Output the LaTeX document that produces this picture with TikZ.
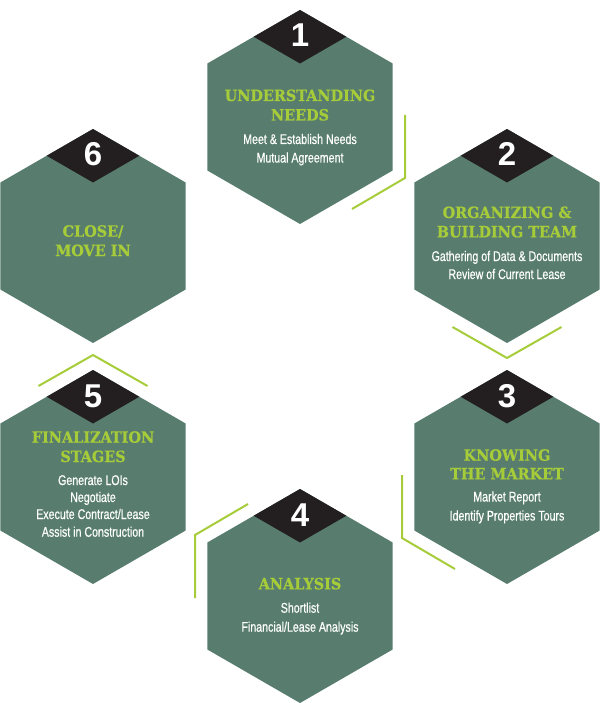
\documentclass[tikz,border=0pt]{standalone}
\usepackage{fontspec}
\usetikzlibrary{calc}
\newfontfamily\titlefont{DejaVu Serif}[FakeStretch=0.93, BoldFeatures={FakeBold=0.6}]
\newfontfamily\bodyfont{Liberation Sans}[FakeStretch=0.76, FakeBold=0.5]
\newfontfamily\numfont{Liberation Sans}
\definecolor{hexfill}{RGB}{88,125,111}
\definecolor{lime}{RGB}{166,204,57}
\definecolor{capblack}{RGB}{35,31,32}
\tikzset{
  hexbody/.style={fill=hexfill},
  capfill/.style={fill=capblack},
  numtext/.style={text=white, inner sep=0, anchor=base, font=\numfont\bfseries\fontsize{33}{33}\selectfont},
  titletext/.style={text=lime, inner sep=0, anchor=base, font=\titlefont\bfseries\fontsize{15.5}{18}\selectfont},
  bodytext/.style={text=white, inner sep=0, anchor=base, font=\bodyfont\fontsize{14}{16}\selectfont},
  chev/.style={draw=lime, line width=2pt}
}
\newcommand\hexcell[4]{%
  \coordinate (#1) at (#2,#3);
  \fill[hexbody] (#1) ++(0,-107) -- ++(92.66,53.5) -- ++(0,107) -- ++(-92.66,53.5) -- ++(-92.66,-53.5) -- ++(0,-107) -- cycle;
  \fill[capfill] (#1) ++(0,-107) -- ++(46.33,26.75) -- ++(-46.33,26.75) -- ++(-46.33,-26.75) -- cycle;
  \node[numtext] (#1num) at ($(#1)+(0,-70)$) {#4};
}
\begin{document}
\begin{tikzpicture}[x=1pt,y=-1pt]
\useasboundingbox (0,0) rectangle (600,703);
\hexcell{h1}{300}{117}{1}
\hexcell{h2}{507}{236}{2}
\hexcell{h3}{507}{477}{3}
\hexcell{h4}{300}{596}{4}
\hexcell{h5}{93}{477}{5}
\hexcell{h6}{93}{236}{6}

% texts hex 1
\node[titletext] (t1a) at (300,101) {UNDERSTANDING};
\node[titletext] (t1b) at (300,120.5) {NEEDS};
\node[bodytext] (b1a) at (300,144) {Meet \& Establish Needs};
\node[bodytext] (b1b) at (300,162.5) {Mutual Agreement};
% hex 2
\node[titletext] (t2a) at (507,218) {ORGANIZING \&};
\node[titletext] (t2b) at (507,237.3) {BUILDING TEAM};
\node[bodytext] (b2a) at (507,261) {Gathering of Data \& Documents};
\node[bodytext] (b2b) at (507,279) {Review of Current Lease};
% hex 3
\node[titletext] (t3a) at (507,460.7) {KNOWING};
\node[titletext] (t3b) at (507,479.3) {THE MARKET};
\node[bodytext] (b3a) at (507,501.5) {Market Report};
\node[bodytext] (b3b) at (507,520.5) {Identify Properties Tours};
% hex 4
\node[titletext] (t4a) at (300,589.3) {ANALYSIS};
\node[bodytext] (b4a) at (300,612.7) {Shortlist};
\node[bodytext] (b4b) at (300,631.7) {Financial/Lease Analysis};
% hex 5
\node[titletext] (t5a) at (93,442.7) {FINALIZATION};
\node[titletext] (t5b) at (93,462) {STAGES};
\node[bodytext] (b5a) at (93,485) {Generate LOIs};
\node[bodytext] (b5b) at (93,502) {Negotiate};
\node[bodytext] (b5c) at (93,519) {Execute Contract/Lease};
\node[bodytext] (b5d) at (93,536.7) {Assist in Construction};
% hex 6
\node[titletext] (t6a) at (93,236.7) {CLOSE/};
\node[titletext] (t6b) at (93,256) {MOVE IN};

% chevrons
\draw[chev] ($(h1)+(105,-2)$) -- ($(h1)+(105,61)$) -- ($(h1)+(52,92)$);
\draw[chev] ($(h2)+(-54.5,91)$) -- ($(h2)+(0,122)$) -- ($(h2)+(54.5,91)$);
\draw[chev] ($(h3)+(-105,-2)$) -- ($(h3)+(-105,61)$) -- ($(h3)+(-52,92)$);
\draw[chev] ($(h4)+(-52,-92)$) -- ($(h4)+(-105,-61)$) -- ($(h4)+(-105,2)$);
\draw[chev] ($(h5)+(-54.5,-91)$) -- ($(h5)+(0,-122)$) -- ($(h5)+(54.5,-91)$);
\end{tikzpicture}
\end{document}
